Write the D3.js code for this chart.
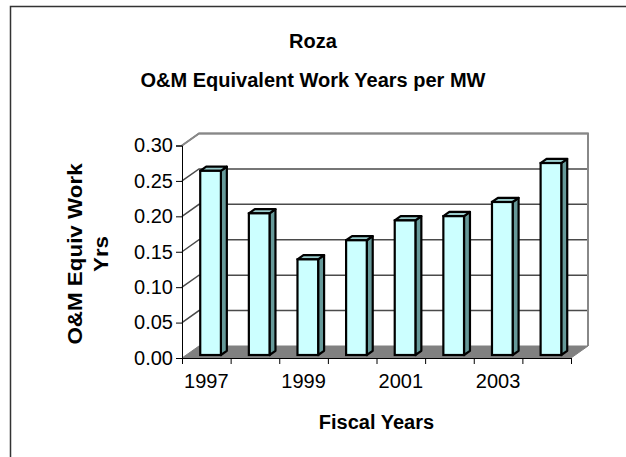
<!DOCTYPE html>
<html>
<head>
<meta charset="utf-8">
<script src="https://cdn.jsdelivr.net/npm/d3@7"></script>
<style>
  body { margin: 0; background: #fff; }
  text { font-family: Arial, "Liberation Sans", sans-serif; }
</style>
</head>
<body>
<svg id="chart" width="626" height="457"></svg>
<script>
var years = ["1997", "1998", "1999", "2000", "2001", "2002", "2003", "2004"];
var workYears = [0.26, 0.20, 0.135, 0.162, 0.19, 0.196, 0.216, 0.271];
var yTicks = [0, 0.05, 0.10, 0.15, 0.20, 0.25, 0.30];
var xLabels = ["1997", "1999", "2001", "2003"];

var w = 626, h = 457;
var plot = { left: 182, right: 571, top: 145.5, bottom: 358 };
// depth of the 3d box
var DX = 17, DY = -12;

var svg = d3.select("#chart");

// outer frame (only top/left edge visible in the picture)
svg.append("rect")
    .attr("x", 10.5).attr("y", 6.5)
    .attr("width", 700).attr("height", 600)
    .attr("fill", "none").attr("stroke", "#333").attr("stroke-width", 1.5);

var x = d3.scaleBand().domain(years)
    .range([plot.left, plot.right])
    .paddingInner(0.575).paddingOuter(0.2875);
var y = d3.scaleLinear().domain([0, 0.30]).range([plot.bottom, plot.top]);

// back wall gridlines
var grid = svg.append("g");
grid.selectAll("path.grid")
    .data(yTicks.slice(1))
    .enter().append("path")
    .attr("d", function(d) {
        return "M" + plot.left + "," + y(d) + "L" + (plot.left + DX) + "," + (y(d) + DY) +
            "L" + (plot.right + DX) + "," + (y(d) + DY);
    })
    .attr("fill", "none").attr("stroke", "#4a4a4a").attr("stroke-width", 1.5);

// back wall border
svg.append("path")
    .attr("d", "M" + plot.left + "," + plot.top + "L" + (plot.left + DX) + "," + (plot.top + DY) +
        "L" + (plot.right + DX) + "," + (plot.top + DY) + "L" + (plot.right + DX) + "," + (plot.bottom + DY))
    .attr("fill", "none").attr("stroke", "#888").attr("stroke-width", 2);

// floor
svg.append("path")
    .attr("d", "M" + plot.left + "," + plot.bottom + "L" + plot.right + "," + plot.bottom +
        "L" + (plot.right + DX) + "," + (plot.bottom + DY) + "L" + (plot.left + DX) + "," + (plot.bottom + DY) + "Z")
    .attr("fill", "#808080").attr("stroke", "#808080").attr("stroke-width", 1);

// bars
var f1 = 0.25, f2 = 0.6;
var bars = svg.append("g").selectAll("g.bar")
    .data(workYears)
    .enter().append("g")
    .attr("class", "bar")
    .attr("transform", "translate(" + (DX * f1) + "," + (DY * f1) + ")");

var bw = x.bandwidth();
var sdx = DX * (f2 - f1), sdy = DY * (f2 - f1);

bars.append("path") // side
    .attr("d", function(d, i) {
        var x1 = x(years[i]) + bw, yt = y(d), yb = y(0);
        return "M" + x1 + "," + yb + "L" + x1 + "," + yt + "L" + (x1 + sdx) + "," + (yt + sdy) +
            "L" + (x1 + sdx) + "," + (yb + sdy) + "Z";
    })
    .attr("fill", "#669999").attr("stroke", "#000").attr("stroke-width", 2.2).attr("stroke-linejoin", "round");

bars.append("path") // top
    .attr("d", function(d, i) {
        var x0 = x(years[i]), yt = y(d);
        return "M" + x0 + "," + yt + "L" + (x0 + bw) + "," + yt + "L" + (x0 + bw + sdx) + "," + (yt + sdy) +
            "L" + (x0 + sdx) + "," + (yt + sdy) + "Z";
    })
    .attr("fill", "#99cccc").attr("stroke", "#000").attr("stroke-width", 2.2).attr("stroke-linejoin", "round");

bars.append("rect") // front
    .attr("x", function(d, i) { return x(years[i]); })
    .attr("y", function(d) { return y(d); })
    .attr("width", bw)
    .attr("height", function(d) { return y(0) - y(d); })
    .attr("fill", "#ccffff").attr("stroke", "#000").attr("stroke-width", 2.2);

// y axis
var yAxis = d3.axisLeft(y).tickValues(yTicks).tickFormat(d3.format(".2f")).tickSize(6).tickPadding(3);
var gy = svg.append("g")
    .attr("transform", "translate(" + plot.left + ",0)")
    .call(yAxis);
gy.selectAll("text").style("font-size", "20px").attr("fill", "#000");
gy.select(".domain").attr("stroke", "#000").attr("stroke-width", 1);

// x axis: ticks on category edges
var xl = d3.scaleLinear().domain([0, years.length]).range([plot.left, plot.right]);
var gx = svg.append("g")
    .attr("transform", "translate(0," + plot.bottom + ")")
    .call(d3.axisBottom(xl).ticks(years.length).tickFormat("").tickSize(6).tickSizeOuter(6));
gx.select(".domain").attr("stroke", "#000");

svg.append("g").selectAll("text")
    .data(xLabels)
    .enter().append("text")
    .attr("x", function(d) { return x(d) + bw / 2; })
    .attr("y", 388)
    .attr("text-anchor", "middle")
    .style("font-size", "20px")
    .text(function(d) { return d; });

// titles
svg.append("text")
    .attr("x", 313).attr("y", 48)
    .attr("text-anchor", "middle")
    .style("font-size", "20px").style("font-weight", "bold")
    .text("Roza");
svg.append("text")
    .attr("x", 313).attr("y", 87)
    .attr("text-anchor", "middle")
    .style("font-size", "20px").style("font-weight", "bold")
    .text("O&M Equivalent Work Years per MW");

svg.append("text")
    .attr("x", (plot.left + plot.right) / 2).attr("y", 429)
    .attr("text-anchor", "middle")
    .style("font-size", "20px").style("font-weight", "bold")
    .text("Fiscal Years");

// y title is a bit stretched along its length in the original
var yt = svg.append("text")
    .attr("transform", "translate(82,254) rotate(-90) scale(1.12,1)")
    .attr("text-anchor", "middle")
    .style("font-size", "20px").style("font-weight", "bold");
yt.append("tspan").attr("x", 0).attr("y", 0).text("O&M Equiv Work");
yt.append("tspan").attr("x", 0).attr("y", 26).text("Yrs");
</script>
</body>
</html>
